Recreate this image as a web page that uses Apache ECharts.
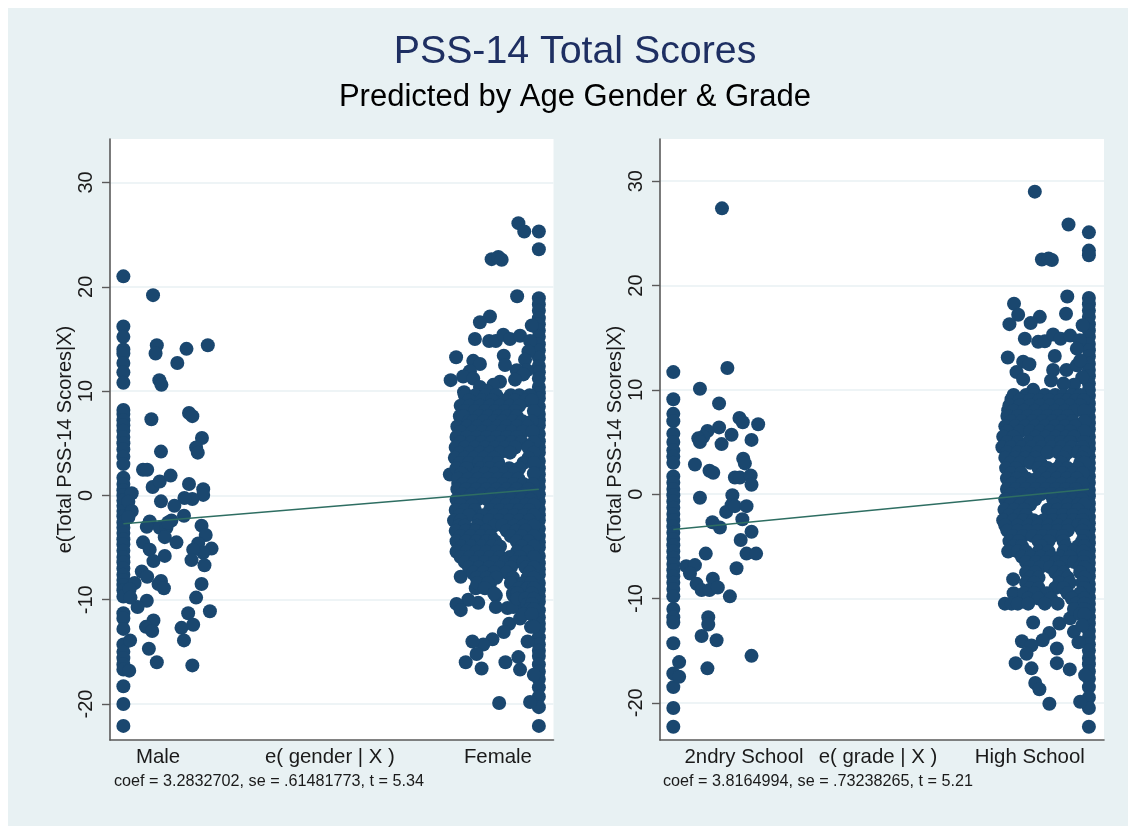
<!DOCTYPE html>
<html><head><meta charset="utf-8">
<style>
html,body{margin:0;padding:0;background:#fff;width:1136px;height:827px;overflow:hidden}
#panel{position:absolute;left:8px;top:8px;width:1120px;height:818px;background:#e8f1f3}
#chart{position:absolute;left:0;top:0;width:1136px;height:827px}
</style>
<script src="https://cdn.jsdelivr.net/npm/echarts@6/dist/echarts.min.js"></script>
</head><body><div id="panel"></div><div id="chart"></div>
<script>
const titleText = 'PSS-14 Total Scores';
const subtitleText = 'Predicted by Age Gender & Grade';
const yAxisTitle = 'e(Total PSS-14 Scores|X)';
const yTicks = [-20,-10,0,10,20,30];
const genderTicks = [-0.774,-0.363,0.039];
const genderLabels = ['Male','e( gender | X )','Female'];
const gradeTicks = [-0.718,-0.396,-0.031];
const gradeLabels = ['2ndry School','e( grade | X )','High School'];
const genderNote = 'coef = 3.2832702, se = .61481773, t = 5.34';
const gradeNote = 'coef = 3.8164994, se = .73238265, t = 5.21';
const genderFit = [[-0.857,-2.72],[0.137,0.58]];
const gradeFit = [[-0.888,-3.39],[0.111,0.46]];

const maleColumnX = -0.857;
const maleColumnY = [21,16.2,15.2,14,13.6,12.7,11.8,10.8,8.2,7.8,7.2,6.7,6.2,5.6,5,4.4,3.7,3,1.7,1.1,.5,0,-.5,-1,-1.5,-2,-2.6,-3.1,-3.6,-4.2,-4.7,-5.3,-5.9,-6.4,-7,-7.6,-8.1,-8.6,-9.1,-9.7,-11.3,-11.8,-12.8,-14.3,-15,-15.6,-16.2,-16.7,-18.3,-20,-22.1];
const malePoints = [[-.786,19.2],[-.777,14.4],[-.78,13.6],[-.728,12.7],[-.706,14.05],[-.655,14.4],[-.771,11.05],[-.766,10.6],[-.70,7.9],[-.692,7.6],[-.79,7.3],[-.669,5.5],[-.683,4.6],[-.679,4.1],[-.767,4.2],
[-.81,2.46],[-.80,2.46],[-.787,.8],[-.77,1.34],[-.744,1.9],[-.70,1.1],[-.666,.6],[-.666,.05],[-.692,-.35],[-.711,-.25],[-.767,-.57],[-.735,-1],[-.712,-1.95],[-.742,-2.4],[-.794,-2.5],[-.801,-3],[-.77,-3.1],[-.754,-3.1],[-.75,-2.6],[-.758,-4],[-.73,-4.5],[-.67,-2.9],[-.66,-3.8],[-.678,-4.6],[-.646,-5.1],[-.666,-5.5],[-.69,-5.2],[-.694,-6.2],[-.663,-6.7],[-.81,-4.5],[-.794,-5.2],[-.785,-6.3],[-.758,-5.8],[-.813,-7.3],[-.80,-7.8],[-.767,-8.2],[-.773,-8.5],[-.76,-8.9],[-.67,-8.5],[-.683,-9.8],[-.801,-10.1],[-.823,-10.7],[-.702,-11.3],[-.65,-11.1],[-.785,-12],[-.803,-12.6],[-.788,-13],[-.718,-12.7],[-.69,-12.4],[-.712,-13.9],[-.796,-14.7],[-.777,-16],[-.692,-16.3],[-.841,-13.9],[-.843,-16.8],[-.837,.2],[-.845,-.6],[-.837,-1.5],[-.845,-2.1],[-.83,-8.4],[-.842,-9],[-.84,-9.8]];

const femaleColumnX = 0.137;
const femaleColumnY = [25.3,23.6,18.9,18.3,17.7,17,16.4,15.8,15.2,14.5,13.9,13.2,12.4,11.8,11.2,10.4,9.8,9.3,8.5,7.8,7.2,6.7,5.9,5.2,4.6,4.1,3.3,2.6,2,1.4,.8,.1,-.6,-1.3,-1.9,-2.4,-3.2,-3.9,-4.5,-5,-5.8,-6.5,-7.1,-7.6,-8.4,-9.1,-9.7,-10.2,-11,-11.7,-12.3,-12.8,-13.6,-14.3,-14.9,-15.4,-16.2,-16.9,-17.6,-18.4,-19.3,-20.3,-22.1];
const femalePoints = [[.088,26.1],[.102,25.3],[.024,22.65],[.04,22.85],[.048,22.6],[.085,19.1],[.02,17.15],[-.004,16.6],[-.016,15],[.018,14.8],[.034,14.8],[.052,15.4],[.068,15],[.092,15.3],[.12,16.3],[.116,14.8],[.112,13.8],[.104,13],[.108,12],[.084,12],[.10,11.6],[-.061,13.25],[-.02,12.9],[-.004,12.6],[.053,13.4],[.056,12.5],[-.028,11.9],[-.044,11.4],[-.074,11.05],[-.02,11.2],[-.004,10.4],[.044,10.9],[.028,10.6],[.08,11.1],[.012,10],[-.042,9.9],[-.076,2],[-.056,1.2],
[-.05,-7.8],[-.02,-7.5],[-.014,-8.9],[.008,-7.8],[.02,-8.5],[.034,-9.6],[.034,-10.7],[.062,-10.8],[-.008,-10.3],[-.032,-10],[-.06,-10.4],[-.05,-11],[.066,-12.3],[.053,-13.1],[.026,-13.8],[.004,-14.3],[-.022,-14],[-.012,-15.2],[-.038,-16],[0,-16.6],[.057,-16],[.088,-15.5],[.092,-16.7],[.042,-19.9],[.116,-19.8],[.11,-14],[.125,-17.2],[.092,-11.8],[.076,-9.6],[.076,-10.7],[.104,-10.7],[.12,-11.1]];
const femaleRows = [
[9.6,[-.04,-.015,.01,.035,.07,.09,.115]],
[9.1,[-.03,0,.025,.055,.08,.105,.12]],
[8.6,[-.05,-.028,-.004,.02,.044,.068,.09]],
[8.1,[-.04,-.016,.008,.032,.056,.08,.125]],
[7.6,[-.052,-.044,-.006,.016,.04,.062,.084]],
[7.1,[-.03,-.02,.005,.03,.05,.075,.098,.12]],
[6.6,[-.058,-.034,-.01,.014,.038,.06,.085,.11]],
[6.1,[-.05,-.022,.002,.026,.05,.072,.098,.122]],
[5.6,[-.06,-.036,-.012,.012,.036,.06,.084]],
[5.1,[-.05,-.024,0,.024,.048,.072,.096,.125]],
[4.6,[-.062,-.04,-.016,.008,.032,.056,.08,.112]],
[4.1,[-.052,-.028,-.004,.02,.044,.068,.125]],
[3.6,[-.064,-.04,-.018,.006,.03,.112]],
[3.1,[-.052,-.03,-.006,.018,.04,.1,.125]],
[2.6,[-.06,-.036,-.002,.02,.044,.066,.09]],
[2.1,[-.048,-.01,.008,.032,.055,.078,.125]],
[1.6,[-.056,-.032,-.008,.016,.04,.064,.088]],
[1.1,[-.044,-.02,.004,.028,.052,.076,.1,.122]],
[.6,[-.058,-.036,-.012,.012,.036,.06,.084,.112]],
[.1,[-.046,-.024,0,.024,.048,.072,.098,.125]],
[-.4,[-.06,-.034,-.01,.014,.05,.07,.095,.118]],
[-.9,[-.05,-.022,.035,.06,.082,.106,.125]],
[-1.4,[-.062,-.04,-.016,.02,.044,.068,.09,.114]],
[-1.9,[-.052,-.03,.004,.03,.054,.078,.102,.125]],
[-2.4,[-.066,-.05,-.006,.018,.042,.066,.09,.114]],
[-2.9,[-.054,-.04,-.01,.03,.05,.078,.1,.125]],
[-3.4,[-.062,-.038,-.014,.01,.06,.082,.105]],
[-3.9,[-.05,-.026,-.002,.022,.07,.096,.125]],
[-4.4,[-.06,-.036,-.012,.012,.032,.084,.112]],
[-4.9,[-.048,-.024,0,.024,.044,.096,.125]],
[-5.4,[-.06,-.036,-.012,.012,.036,.085,.11]],
[-5.9,[-.05,-.028,-.004,.02,.044,.068,.092,.125]],
[-6.4,[-.04,-.016,.008,.032,.056,.08,.1]],
[-6.9,[-.03,-.006,.018,.044,.07,.105,.125]],
[-7.4,[-.02,.004,.03,.06,.115]],
[-7.9,[-.012,.012,.035,.075,.11,.125]],
[-8.4,[-.01,.015,.07,.1,.118]],
[-8.9,[.008,.09,.11,.125]],
[-9.4,[.03,.075,.085,.12]],
[-9.9,[.085,.105,.125]],
[-10.4,[.11,.12]],
[-10.9,[.115,.125]],
[-11.4,[.1,.12]],
[-12.6,[.118,.125]]];

const secondaryColumnX = -0.888;
const secondaryColumnY = [11.7,9.1,7.7,7,5.8,5,4.2,3.6,3,1.7,1.1,.5,-.1,-.7,-1.3,-1.9,-2.5,-3.1,-3.7,-4.3,-4.9,-5.5,-6.1,-6.7,-7.3,-7.9,-8.5,-9.1,-9.8,-11,-11.8,-12.3,-14.3,-17.2,-18.5,-20.5,-22.3];
const secondaryPoints = [[-.874,-16.1],[-.874,-17.5],[-.771,27.4],[-.758,12.1],[-.824,10.1],[-.778,8.7],[-.729,7.3],[-.721,6.9],[-.684,6.7],[-.778,6.4],[-.806,6.05],[-.816,5.5],[-.828,5.35],[-.824,5],[-.748,5.7],[-.70,5.2],[-.772,4.8],[-.836,2.85],[-.801,2.25],[-.792,2.05],[-.72,3.4],[-.716,2.95],[-.74,1.6],[-.728,1.6],[-.702,1.8],[-.70,.9],
[-.824,-.35],[-.746,-.1],[-.748,-1.05],[-.761,-1.7],[-.74,-1.15],[-.712,-1.15],[-.722,-2.4],[-.794,-2.7],[-.776,-3.2],[-.70,-3.6],[-.726,-4.4],[-.712,-5.7],[-.689,-5.7],[-.81,-5.7],[-.736,-7.1],[-.857,-6.9],[-.836,-6.8],[-.848,-7.6],[-.832,-8.6],[-.793,-8.1],[-.82,-9.2],[-.801,-9.2],[-.781,-8.95],[-.752,-9.8],[-.804,-11.8],[-.804,-12.5],[-.82,-13.6],[-.784,-14],[-.70,-15.5],[-.806,-16.7]];

const highColumnX = 0.111;
const highColumnY = [25.1,23.35,22.9,18.8,18.2,17.6,17,16.3,15.7,15.1,14.4,13.8,13.2,12.5,11.9,11.3,10.6,10,9.4,8.7,8.1,7.4,6.8,6.2,5.5,4.9,4.3,3.6,3,2.4,1.7,1.1,.4,-.2,-.9,-1.5,-2.2,-2.8,-3.4,-4.1,-4.7,-5.4,-6,-6.6,-7.3,-7.9,-8.6,-9.2,-9.9,-10.5,-11.1,-11.8,-12.4,-13.1,-13.7,-14.4,-15,-15.7,-16.3,-17,-17.7,-18.5,-19.5,-20.5,-22.3];
const highPoints = [[-.019,29],[.062,25.85],[-.002,22.5],[.014,22.6],[.022,22.45],[.059,18.95],[-.069,18.25],[.056,17.3],[-.059,17.2],[-.007,17],[-.029,16.4],[-.08,16.3],[.096,16.2],[-.043,14.9],[-.011,14.6],[.005,14.65],[.025,15.3],[.043,14.9],[.066,15.2],[.089,14.75],[.082,13.95],[-.084,13.1],[-.047,12.7],[-.032,12.45],[.029,13.25],[-.063,11.7],[-.047,11],[.025,11.9],[.057,11.9],[.082,12.35],[.02,10.9],[.095,11.2],[.09,12.8],[.075,10.5],[.05,10.6],[-.023,10],[-.075,9.1],[-.083,8.05],
[-.071,-8.15],[-.023,-12.3],[.04,-12.4],[.066,-11.9],[.075,-13.2],[.086,-14.2],[.016,-13.3],[0,-14],[-.05,-14.1],[-.027,-14.5],[-.039,-15.3],[.034,-14.8],[-.065,-16.2],[-.027,-16.7],[.034,-16.2],[.065,-16.8],[-.018,-18.1],[-.008,-18.7],[.016,-20.1],[.09,-19.9],[.102,-17.35]];
const highRows = [
[9.5,[-.07,-.04,-.02,.005,.03,.05,.07,.09]],
[9,[-.055,-.03,-.008,.016,.042,.06,.08,.098]],
[8.5,[-.08,-.055,-.03,-.006,.018,.042,.066,.09]],
[8,[-.07,-.045,-.018,.006,.03,.054,.078,.1]],
[7.5,[-.085,-.06,-.036,-.012,.012,.036,.06]],
[7,[-.075,-.05,-.024,0,.024,.048,.072,.1]],
[6.5,[-.09,-.066,-.042,-.018,.006,.03,.054,.078]],
[6,[-.085,-.055,-.03,-.006,.018,.042,.066,.1]],
[5.5,[-.095,-.07,-.016,.008,.032,.056,.075]],
[5,[-.085,-.06,-.034,-.01,.02,.044,.066,.1]],
[4.5,[-.097,-.075,-.05,-.026,-.002,.022,.046,.07,.095]],
[4,[-.085,-.06,-.038,-.012,.012,.038,.06,.085,.1]],
[3.5,[-.09,-.066,-.042,-.018,.05,.095]],
[3,[-.078,-.054,-.03,-.005,.045,.09,.1]],
[2.5,[-.088,-.064,-.01,.012,.036,.06,.084]],
[2,[-.076,-.052,0,.024,.048,.072,.096]],
[1.5,[-.086,-.062,-.038,-.014,.01,.034,.058,.082]],
[1,[-.074,-.05,-.026,-.002,.022,.046,.07,.095]],
[.5,[-.086,-.064,-.04,-.016,.008,.032,.056,.08]],
[0,[-.076,-.052,-.028,-.004,.02,.044,.068,.095]],
[-.5,[-.09,-.066,-.042,-.018,.025,.05,.074,.095]],
[-1,[-.078,-.054,-.03,.03,.06,.085,.1]],
[-1.5,[-.092,-.068,-.044,.012,.036,.06,.084]],
[-2,[-.08,-.056,-.04,.024,.048,.072,.1]],
[-2.5,[-.095,-.07,-.046,-.022,.002,.026,.05,.074,.095]],
[-3,[-.09,-.06,-.034,-.01,.014,.038,.062,.085,.1]],
[-3.5,[-.085,-.06,-.036,-.012,.012,.036,.06,.095]],
[-4,[-.072,-.048,-.024,0,.024,.048,.1]],
[-4.5,[-.08,-.058,-.01,.014,.05,.095]],
[-5,[-.07,-.05,-.004,.055,.085,.1]],
[-5.5,[-.083,-.06,-.04,-.01,.014,.05,.075,.098]],
[-6,[-.05,-.028,-.004,.02,.044,.066,.1]],
[-6.5,[-.04,-.016,.008,.032,.056,.076,.098]],
[-7,[-.03,-.006,.018,.04,.09,.1]],
[-7.5,[-.04,-.018,.03,.05,.09]],
[-8,[-.03,-.01,.04,.06,.1]],
[-8.5,[-.04,-.02,.04,.065,.095]],
[-9,[-.03,-.01,.03,.05,.1]],
[-9.5,[-.07,-.045,-.02,.01,.06,.09]],
[-10,[-.035,-.01,.02,.07,.1]],
[-10.5,[-.091,-.075,-.06,-.035,.005,.036,.08,.1]],
[-11,[.075,.1]],
[-11.5,[.09,.1]],
[-12.6,[.095]]];

const column = (x, ys) => ys.map(y => [x, y]);
const rows = list => list.flatMap(([y, xs]) => xs.map(x => [x, y]));
const genderData = [...column(maleColumnX, maleColumnY), ...malePoints, ...column(femaleColumnX, femaleColumnY), ...femalePoints, ...rows(femaleRows)];
const gradeData = [...column(secondaryColumnX, secondaryColumnY), ...secondaryPoints, ...column(highColumnX, highColumnY), ...highPoints, ...rows(highRows)];

const FONT = '"Liberation Sans", Arial, sans-serif';
const NAVY = '#1a476f', AXIS = '#5a5a5a', GRID = '#e9f1f3', FIT = '#2e6e62';

function xAxis(i, min, max, ticks, labels) {
  return { gridIndex: i, type: 'value', min, max, splitLine: {show: false},
    axisLine: {show: true, onZero: false, lineStyle: {color: AXIS, width: 1.6}},
    axisTick: {show: false},
    axisLabel: {customValues: ticks, margin: 7, fontFamily: FONT, fontSize: 20.4, color: '#1a1a1a',
      hideOverlap: false, showMinLabel: true, showMaxLabel: true,
      formatter: v => { const k = ticks.findIndex(t => Math.abs(t - v) < 1e-6); return k >= 0 ? labels[k] : ''; }}};
}
function yAxis(i, min, max) {
  return { gridIndex: i, type: 'value', min, max,
    name: yAxisTitle, nameLocation: 'middle', nameGap: 35, nameRotate: 90,
    nameTextStyle: {fontFamily: FONT, fontSize: 20, color: '#1a1a1a'},
    axisLine: {show: true, onZero: false, lineStyle: {color: AXIS, width: 1.6}},
    axisTick: {show: true, customValues: yTicks, length: 8, lineStyle: {color: AXIS, width: 1.4}},
    splitLine: {show: true, lineStyle: {color: GRID, width: 1.5}},
    axisLabel: {customValues: yTicks, rotate: 90, margin: 14, fontFamily: FONT, fontSize: 20, color: '#1a1a1a',
      verticalAlign: 'bottom', align: 'center', showMinLabel: true, showMaxLabel: true}};
}
const dots = (i, data) => ({type: 'scatter', xAxisIndex: i, yAxisIndex: i, data, symbolSize: 14, silent: true,
  itemStyle: {color: NAVY, opacity: 1}, z: 2});
const fit = (i, data) => ({type: 'line', xAxisIndex: i, yAxisIndex: i, data, showSymbol: false, silent: true,
  lineStyle: {color: FIT, width: 1.5}, z: 3});
const note = (text, left) => ({text, left, top: 774, textStyle: {fontFamily: FONT, fontSize: 16.2, fontWeight: 'normal', color: '#1a1a1a'}, padding: 0});

const chart = echarts.init(document.getElementById('chart'), null, {renderer: 'canvas'});
chart.setOption({
  animation: false,
  backgroundColor: 'transparent',
  title: [
    {text: titleText, left: 575, top: 33, textAlign: 'center', padding: 0, textStyle: {fontFamily: FONT, fontSize: 39.3, fontWeight: 'normal', color: '#1e2f62'}},
    {text: subtitleText, left: 575, top: 82, textAlign: 'center', padding: 0, textStyle: {fontFamily: FONT, fontSize: 31, fontWeight: 'normal', color: '#000'}},
    note(genderNote, 114), note(gradeNote, 663)
  ],
  grid: [
    {left: 110, width: 443.5, top: 139, height: 601, show: true, backgroundColor: '#fff', borderWidth: 0},
    {left: 660, width: 444, top: 139, height: 601, show: true, backgroundColor: '#fff', borderWidth: 0}
  ],
  xAxis: [xAxis(0, -0.889, 0.172, genderTicks, genderLabels), xAxis(1, -0.92, 0.1473, gradeTicks, gradeLabels)],
  yAxis: [yAxis(0, -23.45, 34.17), yAxis(1, -23.57, 34.05)],
  series: [dots(0, genderData), fit(0, genderFit), dots(1, gradeData), fit(1, gradeFit)]
});
</script></body></html>
